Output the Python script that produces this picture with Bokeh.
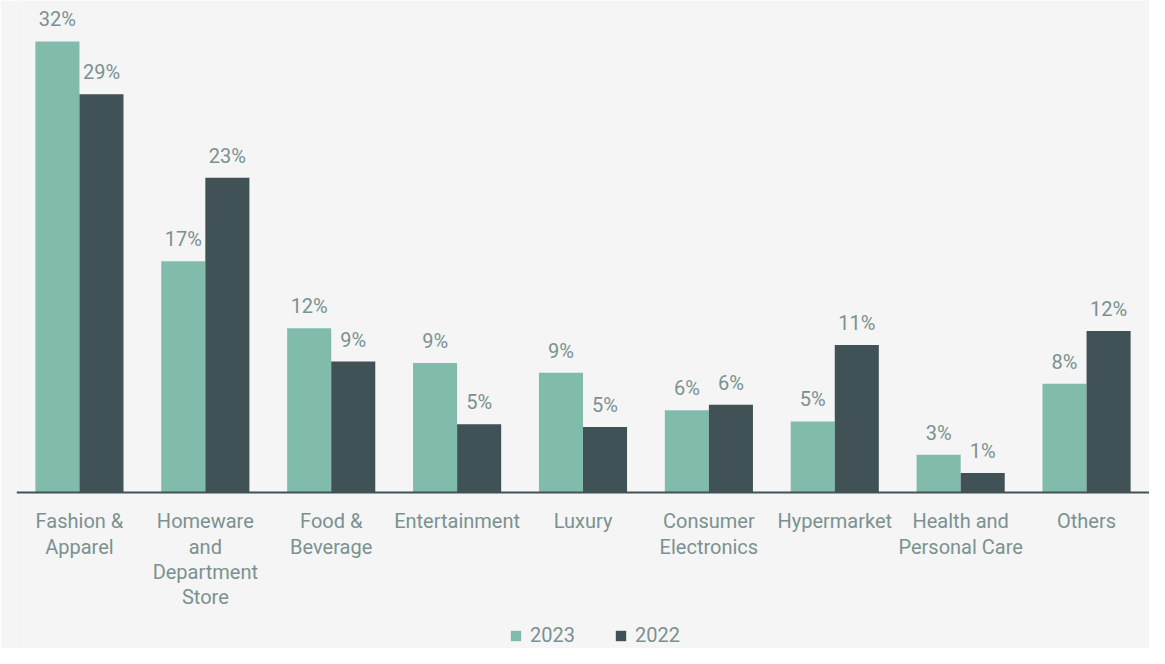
from bokeh.plotting import figure
from bokeh.models import ColumnDataSource, Span, Legend, LegendItem, Range1d
from bokeh.transform import dodge
from bokeh.core.properties import value
from bokeh.embed import file_html
from bokeh.resources import INLINE

categories = ["Fashion & Apparel", "Homeware and Department Store", "Food & Beverage",
              "Entertainment", "Luxury", "Consumer Electronics", "Hypermarket",
              "Health and Personal Care", "Others"]
tick_labels = ["Fashion &\nApparel", "Homeware\nand\nDepartment\nStore", "Food &\nBeverage",
               "Entertainment", "Luxury", "Consumer\nElectronics", "Hypermarket",
               "Health and\nPersonal Care", "Others"]
values_2023 = [32.4, 16.6, 11.8, 9.3, 8.6, 5.9, 5.1, 2.7, 7.8]
values_2022 = [28.6, 22.6, 9.4, 4.9, 4.7, 6.3, 10.6, 1.4, 11.6]

C23 = "#80bbac"
C22 = "#415256"
TXT = "#7b9191"
FONT = "Roboto"

src = ColumnDataSource(dict(
    cat=categories, tick=tick_labels,
    v23=values_2023, v22=values_2022,
    l23=[f"{round(v)}%" for v in values_2023],
    l22=[f"{round(v)}%" for v in values_2022],
    zero=[0] * len(categories),
))

p = figure(x_range=categories, width=1149, height=648, output_backend="svg",
           toolbar_location=None, min_border_left=16, min_border_right=0,
           min_border_top=0, min_border_bottom=0)
p.y_range = Range1d(-11.21, 35.34)
p.background_fill_color = "#f5f5f5"
p.border_fill_color = "#f5f5f5"
p.outline_line_color = None
p.grid.visible = False
p.xaxis.visible = False
p.yaxis.visible = False
p.x_range.range_padding = 0

r23 = p.vbar(x=dodge("cat", -0.175, range=p.x_range), top="v23", width=0.35, source=src,
             fill_color=C23, line_color=None)
r22 = p.vbar(x=dodge("cat", 0.175, range=p.x_range), top="v22", width=0.35, source=src,
             fill_color=C22, line_color=None)

p.text(x=dodge("cat", -0.175, range=p.x_range), y="v23", text="l23", source=src,
       text_align="center", text_baseline="alphabetic", y_offset=-22,
       text_font=value(FONT), text_font_size="20px", text_color=TXT)
p.text(x=dodge("cat", 0.175, range=p.x_range), y="v22", text="l22", source=src,
       text_align="center", text_baseline="alphabetic", y_offset=-22,
       text_font=value(FONT), text_font_size="20px", text_color=TXT)

p.add_layout(Span(location=0, dimension="width", line_color=C22, line_width=2))

p.text(x="cat", y="zero", text="tick", source=src, text_align="center",
       text_baseline="top", y_offset=17, text_line_height=1.05,
       text_font=value(FONT), text_font_size="20px", text_color=TXT)

legend = Legend(items=[LegendItem(label="2023", renderers=[r23]),
                       LegendItem(label="2022", renderers=[r22])],
                orientation="horizontal", location=(493, 1),
                glyph_width=13, glyph_height=13, label_standoff=8, spacing=39,
                padding=0, margin=0, border_line_color=None, background_fill_alpha=0,
                label_text_font=FONT, label_text_font_size="20px", label_text_color=TXT,
                label_height=20)
p.add_layout(legend)

open("out.html", "w").write(file_html(p, INLINE))
